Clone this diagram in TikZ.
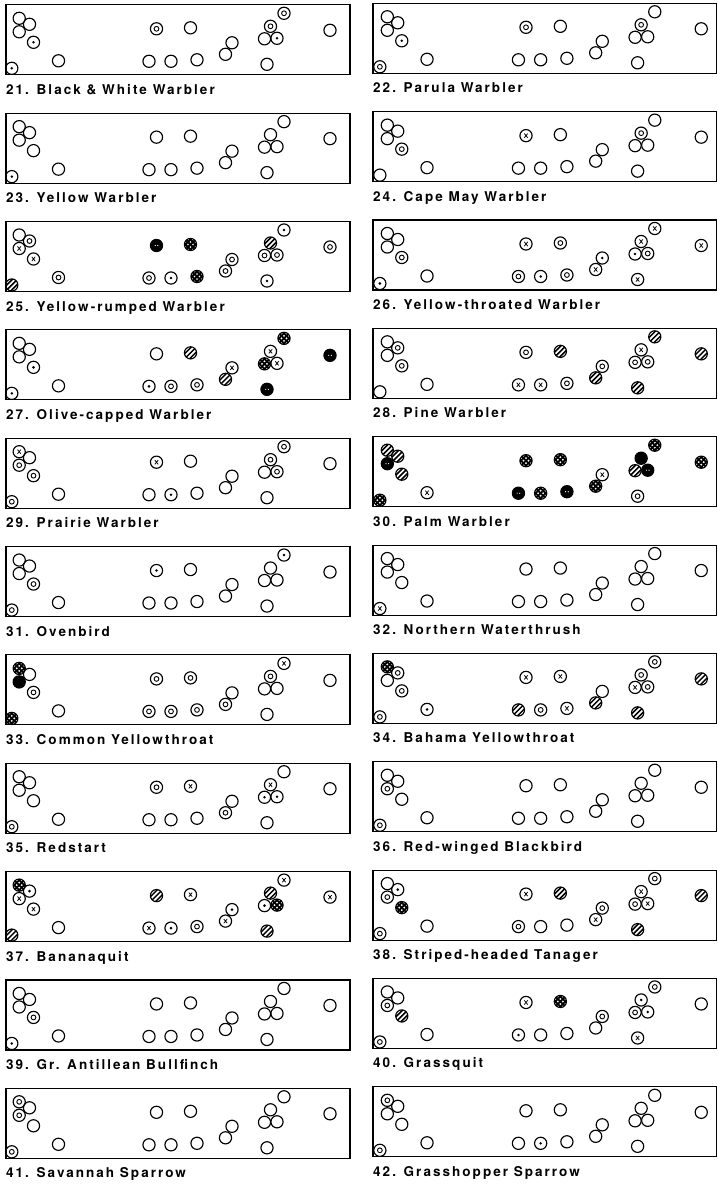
\documentclass[tikz,border=0pt]{standalone}
\usepackage{fontspec}
\newfontfamily\letterfont{TeX Gyre Heros}[LetterSpace=15]
\tikzset{
  sitebox/.style={draw, line width=1.1pt},
  sitename/.style={anchor=base west, inner sep=0pt, font=\letterfont\bfseries\fontsize{13.5}{15}\selectfont},
  site/.style={circle, draw, line width=1.15pt, minimum size=12.2pt, inner sep=0pt},
  mk-o/.style={site},
  mk-d/.style={site, path picture={\fill (path picture bounding box.center) circle (1.4pt);}},
  mk-r/.style={site, path picture={\draw[line width=0.9pt] (path picture bounding box.center) circle (2.4pt);}},
  mk-x/.style={site, path picture={\draw[line width=0.75pt, shift={(path picture bounding box.center)}]
      (-1.7pt,-2.1pt) -- (1.7pt,2.1pt) (-1.7pt,2.1pt) -- (1.7pt,-2.1pt);}},
  mk-h/.style={site, path picture={\foreach \hh in {-5,0,5}
      \draw[line width=1.5pt, shift={(path picture bounding box.center)}] (\hh pt-8pt,-8pt) -- (\hh pt+8pt,8pt);}},
  mk-c/.style={site, path picture={\foreach \hh in {-5,0,5}
      \draw[line width=1.8pt, shift={(path picture bounding box.center)}]
        (\hh pt-8pt,-8pt) -- (\hh pt+8pt,8pt) (\hh pt-8pt,8pt) -- (\hh pt+8pt,-8pt);}},
  mk-k/.style={site, fill=black, path picture={\fill[white, shift={(path picture bounding box.center)}]
      (-1.3pt,0) circle (0.6pt) (1.3pt,0) circle (0.6pt);}},
  mk-b/.style={site, fill=black}
}
% site positions inside a panel, from the box's top left corner
\def\sitelist{13.2/13.5, 23.5/19.5, 13.2/27, 27.5/37.5, 5.8/63.5, 52.5/56, 150.5/24, 184.5/23,
  143/56.5, 165/56.5, 191/55, 226/38, 219.5/49.5, 278/8.5, 264.5/21.5, 258.5/34, 271/33.5, 261/59.5, 324/25.5}
% #1 column, #2 row, #3 marks, #4 number, #5 name
\newcommand\birdpanel[5]{%
  \ifnum#1=0 \def\boxleft{6}\def\boxright{350}\def\sitescale{1}\def\boxoff{4.8}%
  \else \def\boxleft{373}\def\boxright{716.5}\def\sitescale{1.01}\def\boxoff{3.3}\fi
  \pgfmathsetmacro\boxtop{\boxoff+108.35*#2}
  \draw[sitebox] (\boxleft,\boxtop) rectangle (\boxright,\boxtop+70);
  \foreach \sx/\sy [count=\k] in \sitelist
    \coordinate (p\k) at (\boxleft+#1+\sitescale*\sx,\boxtop+\sy);
  \foreach \m [count=\k] in {#3}
    \node[mk-\m] (b#4-\k) at (p\k) {};
  \node[sitename] (t#4) at (\boxleft,\boxtop+89.5) {#4. #5};
}
\begin{document}
\begin{tikzpicture}[x=1pt, y=-1pt]
  \useasboundingbox (0,0) rectangle (717,1185);
  \birdpanel{0}{0}{o,o,o,d,d,o,r,o,o,o,o,o,o,r,r,o,d,o,o}{21}{Black \& White Warbler}
  \birdpanel{1}{0}{o,o,o,d,r,o,r,o,o,o,o,o,o,o,r,o,o,o,o}{22}{Parula Warbler}
  \birdpanel{0}{1}{o,o,o,o,d,o,o,o,o,o,o,o,o,o,o,o,o,o,o}{23}{Yellow Warbler}
  \birdpanel{1}{1}{o,o,o,r,o,o,x,o,o,o,o,o,o,o,r,o,o,o,o}{24}{Cape May Warbler}
  \birdpanel{0}{2}{o,r,x,x,h,r,k,c,r,d,c,r,r,d,h,r,r,d,r}{25}{Yellow-rumped Warbler}
  \birdpanel{1}{2}{o,o,o,r,d,o,x,r,r,d,r,d,x,x,x,d,r,x,x}{26}{Yellow-throated Warbler}
  \birdpanel{0}{3}{o,o,o,d,d,o,o,h,d,r,r,x,h,c,x,c,x,k,k}{27}{Olive-capped Warbler}
  \birdpanel{1}{3}{o,r,o,r,o,o,r,h,x,x,r,r,h,h,x,r,r,h,h}{28}{Pine Warbler}
  \birdpanel{0}{4}{x,o,r,r,r,o,x,o,o,d,o,o,o,r,r,o,r,o,o}{29}{Prairie Warbler}
  \birdpanel{1}{4}{h,h,k,h,c,x,c,c,k,c,k,x,c,c,b,h,k,r,c}{30}{Palm Warbler}
  \birdpanel{0}{5}{o,o,o,r,r,o,d,o,o,o,o,o,o,d,o,o,o,o,o}{31}{Ovenbird}
  \birdpanel{1}{5}{o,o,o,o,x,o,o,o,o,o,o,o,o,o,o,o,o,o,o}{32}{Northern Waterthrush}
  \birdpanel{0}{6}{c,o,b,r,c,o,r,r,r,r,r,o,r,x,r,o,o,o,o}{33}{Common Yellowthroat}
  \birdpanel{1}{6}{c,r,o,r,r,d,x,x,h,r,x,o,h,r,r,x,r,h,h}{34}{Bahama Yellowthroat}
  \birdpanel{0}{7}{o,o,o,o,r,o,r,x,o,o,o,o,r,o,x,d,d,o,o}{35}{Redstart}
  \birdpanel{1}{7}{o,o,r,o,r,o,o,o,o,o,o,o,o,o,o,o,o,o,o}{36}{Red-winged Blackbird}
  \birdpanel{0}{8}{c,d,x,x,h,o,h,x,x,d,r,d,x,x,h,d,c,h,x}{37}{Bananaquit}
  \birdpanel{1}{8}{o,d,r,c,r,o,x,h,r,o,o,r,x,r,x,r,x,h,h}{38}{Striped-headed Tanager}
  \birdpanel{0}{9}{o,o,o,r,d,o,o,o,o,o,o,o,o,o,o,o,o,o,o}{39}{Gr. Antillean Bullfinch}
  \birdpanel{1}{9}{o,o,r,h,r,o,x,c,d,o,o,r,o,r,d,r,d,x,o}{40}{Grassquit}
  \birdpanel{0}{10}{r,o,r,o,r,o,o,o,o,o,o,o,o,o,o,o,o,o,o}{41}{Savannah Sparrow}
  \birdpanel{1}{10}{r,o,o,o,r,o,o,o,o,d,o,o,o,o,o,o,o,o,o}{42}{Grasshopper Sparrow}
\end{tikzpicture}
\end{document}
